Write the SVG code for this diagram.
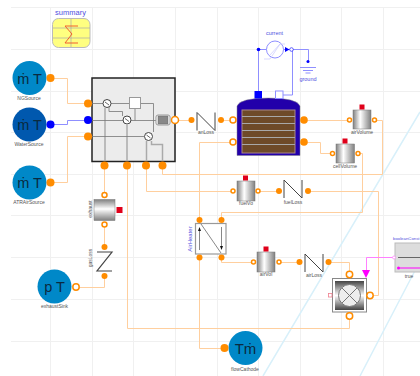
<svg xmlns="http://www.w3.org/2000/svg" width="420" height="376" viewBox="0 0 420 376">
<defs>
<linearGradient id="vol" x1="0" x2="1" y1="0" y2="0"><stop offset="0" stop-color="#808080"/><stop offset="0.4" stop-color="#fff"/><stop offset="1" stop-color="#808080"/></linearGradient>
<linearGradient id="volh" x1="0" x2="0" y1="0" y2="1"><stop offset="0" stop-color="#808080"/><stop offset="0.45" stop-color="#fff"/><stop offset="1" stop-color="#808080"/></linearGradient>
<linearGradient id="hx" x1="0" x2="0" y1="0" y2="1"><stop offset="0" stop-color="#444"/><stop offset="0.5" stop-color="#fff"/><stop offset="1" stop-color="#444"/></linearGradient>
<path id="n" d="M0 0V18M0 0L18 18M18 0V18" fill="none" stroke="#444" stroke-width="1"/>
</defs>
<style>
text{font-family:"Liberation Sans",Arial,sans-serif}
.grid{stroke:#f0f0f0;stroke-width:1;fill:none}
.diag{stroke:#d8f0fa;stroke-width:1.5;fill:none}
.w{fill:none;stroke:#ffcf9e;stroke-width:1}
.bw{fill:none;stroke:#8f8fff;stroke-width:1}
.pw{fill:none;stroke:#ff80ff;stroke-width:1}
.pf{fill:#ff8c00}
.ph{fill:#fff;stroke:#ff8c00;stroke-width:1.5}
.src{font-size:14.5px;fill:#0a2a40;text-anchor:middle}
.lab{font-size:5px;fill:#555;text-anchor:middle}
.blab{font-size:5.5px;fill:#5050e0;text-anchor:middle}
.red{fill:#e0001a}
.vb{fill:url(#vol);stroke:#777;stroke-width:.5}
.in{fill:none;stroke:#777;stroke-width:.8}
.thick{fill:none;stroke:#aaa;stroke-width:1.5}
.sens{fill:#fff;stroke:#444;stroke-width:1}
</style>
<g id="grid">
<path class="grid" d="M50.5 7V376M92.5 7V376M133.5 7V376M175.5 7V376M217.5 7V376M258.5 7V376M300.5 7V376M341.5 7V376M383.5 7V376"/>
<path class="grid" d="M11 7.500H420M11 49.500H420M11 91.500H420M11 132.500H420M11 174.500H420M11 215.500H420M11 257.500H420M11 299.500H420M11 341.500H420"/>
<path class="diag" d="M420 112L263 376M420 261L360 376"/>
</g>
<g id="connectors">
<path class="w" d="M50.500 78.500H67.500V103.500H88"/>
<path class="bw" d="M50.500 124.500H67.500V120.500H88"/>
<path class="w" d="M50.500 182.500H67.500V136.500H88"/>
<path class="w" d="M175 120.500H191.500M221 120.500H233"/>
<path class="w" d="M233 142.500H199.500V220"/>
<path class="w" d="M162.500 165V174.500H382.500V120.500H374.500"/>
<path class="w" d="M146.500 165V191.500H233"/>
<path class="w" d="M127.500 165V328.500H349.500V316"/>
<path class="w" d="M104.500 165V195M104.500 224V247M104.500 276V287.500H76"/>
<path class="w" d="M199.500 257V348.500H224"/>
<path class="w" d="M221.500 220V212.500H362.500V153.500H358"/>
<path class="w" d="M221.500 257V262.500H253.500M279 262.500H299.500M328.500 262.500H349.500V274"/>
<path class="w" d="M258 191.500H279M308 191.500H378.500V295.500H370"/>
<path class="w" d="M304 120.500H349.500M304 142.500H320.500V153.500H332.500"/>
<path class="bw" d="M258.500 49.500V95M258.500 49.500H267M283 49.500H292.500V95H283M292.500 49.500H308.500V61"/>
<path class="pw" d="M394 257.500H366.500V270"/>
</g>
<g id="summary">
<rect x="52.500" y="18.500" width="37.500" height="29" rx="6" fill="#ffff80" stroke="#bbb"/>
<path d="M53 28H90M53 38H90M71 19V47" stroke="#aaa" stroke-width=".7" fill="none"/>
<path d="M78 26H65L72 34L65 43H78" fill="none" stroke="#f06030" stroke-width="1"/>
<text x="70.500" y="15" font-size="7.500" fill="#5050e0" text-anchor="middle">summary</text>
</g>
<g id="NGSource"><circle cx="29.500" cy="78" r="17" fill="#0088c8"/><text class="src" x="29.500" y="84">ṁ T</text><circle class="pf" cx="50.500" cy="78" r="4"/><text class="lab" x="29" y="100">NGSource</text></g>
<g id="WaterSource"><circle cx="29.500" cy="124.500" r="17" fill="#0058ae"/><text class="src" x="29.500" y="130">ṁ T</text><circle cx="50.500" cy="124.500" r="4" fill="#0000ff"/><text class="lab" x="29" y="146">WaterSource</text></g>
<g id="ATRAirSource"><circle cx="29.500" cy="182.500" r="17" fill="#0088c8"/><text class="src" x="29.500" y="188">ṁ T</text><circle class="pf" cx="50.500" cy="182.500" r="4"/><text class="lab" x="29" y="204">ATRAirSource</text></g>
<g id="reformer">
<rect x="92" y="78" width="83" height="83.500" fill="#ececec" stroke="#222" stroke-width="1.500"/>
<path class="thick" d="M105 108V161M127 125V161M146.500 141V161M162.500 161V144.500H151.500V141"/>
<path class="in" d="M92 103.500H130M92 120.500H156M92 136.500H144M109 107V111.500H122.500V116M135 108V120.500M140 103.500H153.500V132"/>
<rect x="129.500" y="97.500" width="11" height="11" fill="#fff" stroke="#999"/>
<circle class="sens" cx="107" cy="103.500" r="4"/><path d="M105 102L109 105" stroke="#666"/>
<circle class="sens" cx="127" cy="120" r="4"/><path d="M125 118.500L129 121.500" stroke="#666"/>
<circle class="sens" cx="148.500" cy="136.500" r="4"/><path d="M146.500 135L150.500 138" stroke="#666"/>
<rect x="156" y="115" width="14" height="10" rx="2" fill="#fff" stroke="#999"/><rect x="158" y="116" width="10" height="8" fill="#888" stroke="#666" stroke-width=".5"/>
<circle class="pf" cx="88" cy="103.500" r="4"/><circle cx="88" cy="120" r="4" fill="#0000ff"/><circle class="pf" cx="88" cy="136.500" r="4"/>
<circle class="pf" cx="104.500" cy="165.500" r="4"/><circle class="pf" cx="127" cy="165.500" r="4"/><circle class="pf" cx="146" cy="165.500" r="4"/><circle class="pf" cx="162.500" cy="165.500" r="4"/>
<circle class="ph" cx="175" cy="120" r="3.500"/>
</g>
<g id="anLoss"><use href="#n" x="197" y="112.500"/><circle class="pf" cx="191.500" cy="120" r="3"/><circle class="pf" cx="221" cy="120" r="3"/><text class="lab" x="206" y="134">anLoss</text></g>
<g id="stack">
<path d="M237 155.500V106Q240 98 268.500 98Q297 98 300 106V155.500Z" fill="#2200aa" stroke="#888" stroke-width=".5"/>
<rect x="242" y="110" width="53" height="43" fill="#6e4a28" stroke="#a88"/>
<path d="M242 116.500H295M242 123.500H295M242 130.500H295M242 137.500H295M242 144.500H295" stroke="#a8a8a8" stroke-width="1"/>
<rect x="254.500" y="91" width="7.500" height="7.500" fill="#0000ff"/>
<rect x="275.500" y="91" width="7.500" height="7.500" fill="#fff" stroke="#8f8fff"/>
<circle class="ph" cx="233" cy="120" r="3"/><circle class="ph" cx="233" cy="142" r="3"/>
<circle class="pf" cx="304" cy="120" r="3.800"/><circle class="pf" cx="304" cy="142" r="3.800"/>
</g>
<g id="current">
<circle cx="275" cy="49.500" r="8.500" fill="#fff" stroke="#8f8fff"/>
<path d="M270 55L280 44M264 59H270L280 44H285" fill="none" stroke="#c8c8ff" stroke-width=".7"/>
<path d="M285 47L289.500 49.500L285 52Z" fill="#0000ff"/>
<circle cx="258.500" cy="49.500" r="1.800" fill="#0000ff"/><circle cx="291.500" cy="49.500" r="1.800" fill="#fff" stroke="#0000ff" stroke-width=".6"/>
<text class="blab" x="274.500" y="35">current</text>
</g>
<g id="ground">
<circle cx="308" cy="61.500" r="1.500" fill="#0000ff"/>
<path d="M300 67.500H316M303 70.500H313M305.500 73H310.500" stroke="#8f8fff" fill="none"/>
<text class="blab" x="308" y="81">ground</text>
</g>
<g id="airVolume"><rect class="vb" x="353" y="110" width="18" height="19"/><rect class="red" x="359.500" y="104.500" width="5" height="5"/><circle class="ph" cx="349.500" cy="120" r="2"/><circle class="ph" cx="374.500" cy="120" r="2"/><text class="lab" x="362" y="134">airVolume</text></g>
<g id="cellVolume"><rect class="vb" x="336" y="144" width="18.500" height="19"/><rect class="red" x="342.500" y="138.500" width="5" height="5"/><circle class="ph" cx="332.500" cy="153.500" r="2"/><circle class="ph" cx="358" cy="153.500" r="2"/><text class="lab" x="345" y="167.500">cellVolume</text></g>
<g id="fuelVo"><rect class="vb" x="237" y="181" width="18" height="20"/><rect class="red" x="243" y="175.500" width="5" height="5"/><circle class="ph" cx="233" cy="191" r="2"/><circle class="ph" cx="258" cy="191" r="2"/><text class="lab" x="246" y="204.500">fuelVo</text></g>
<g id="fuelLoss"><use href="#n" x="284" y="180"/><circle class="pf" cx="279" cy="191" r="3"/><circle class="pf" cx="308" cy="191" r="3"/><text class="lab" x="293" y="204">fuelLoss</text></g>
<g id="AirHeater">
<rect x="195.500" y="223.500" width="30.500" height="30.500" fill="#fff" stroke="#999" stroke-width="1.200"/>
<path d="M199.500 250V229M221.500 227V248M201 224L221 253" fill="none" stroke="#555" stroke-width=".7"/>
<path d="M198 231L199.500 227L201 231ZM220 246L221.500 250L223 246Z" fill="#111"/>
<circle class="pf" cx="199.500" cy="220" r="3"/><circle class="pf" cx="199.500" cy="257.500" r="3"/><circle class="pf" cx="221.500" cy="220" r="3"/><circle class="pf" cx="221.500" cy="257.500" r="3"/>
<text class="blab" transform="translate(192 239) rotate(-90)" style="font-size:6px">AirHeater</text>
</g>
<g id="exhaustVol"><rect x="94" y="199.500" width="21" height="21" fill="url(#volh)" stroke="#777" stroke-width=".5"/><rect class="red" x="116.500" y="207" width="6" height="6"/><circle class="ph" cx="104.500" cy="195" r="2.500"/><circle class="ph" cx="104.500" cy="224.500" r="2.500"/><text class="lab" transform="translate(92 209) rotate(-90)">exhaust</text></g>
<g id="exhaustLoss"><path d="M97 252H112L97 271H112" fill="none" stroke="#444" stroke-width="1.200"/><circle class="pf" cx="104.500" cy="247" r="3"/><circle class="pf" cx="104.500" cy="276" r="3"/><text class="lab" transform="translate(92 258) rotate(-90)">gasLoss</text></g>
<g id="exhaustSink"><circle cx="54.500" cy="286.500" r="17" fill="#0088c8"/><text class="src" x="54.500" y="292">p T</text><circle class="ph" cx="76" cy="287" r="3.200"/><text class="lab" x="54.500" y="308">exhaustSink</text></g>
<g id="airVol"><rect class="vb" x="257" y="252" width="18" height="20"/><rect class="red" x="263.500" y="246.500" width="5" height="5"/><circle class="ph" cx="253.500" cy="262" r="2"/><circle class="ph" cx="279" cy="262" r="2"/><text class="lab" x="266" y="276">airVol</text></g>
<g id="airLoss"><use href="#n" x="305" y="254"/><circle class="pf" cx="299.500" cy="262" r="3"/><circle class="pf" cx="328.500" cy="262" r="3"/><text class="lab" x="314" y="276.500">airLoss</text></g>
<g id="arHx">
<rect x="332.500" y="278.500" width="34" height="33.500" fill="#fff" stroke="#888"/>
<rect x="335" y="281" width="29" height="29" fill="url(#hx)"/>
<circle cx="349.500" cy="295.500" r="11" fill="#eee" stroke="#777"/><path d="M342 288L357 303M357 288L342 303" stroke="#777"/>
<path d="M362 270H370L366 278Z" fill="#ff00ff"/>
<rect x="328.500" y="293.500" width="3.500" height="3.500" fill="#fff" stroke="#f08090" stroke-width=".8"/>
<circle class="ph" cx="349.500" cy="274.500" r="3.200"/><circle class="ph" cx="349.500" cy="316" r="3.200"/><circle class="ph" cx="370" cy="295.500" r="3.200"/>
</g>
<g id="booleanConstant">
<rect x="395" y="243" width="26" height="29" fill="#ddd" stroke="#bbb"/>
<path d="M398 257.500H421" stroke="#666"/><path d="M398 268H421" stroke="#ff00ff"/><circle cx="398.500" cy="268" r="1.500" fill="#ff00ff"/>
<circle cx="394" cy="257.500" r="1.500" fill="#fff" stroke="#ff80ff" stroke-width=".7"/>
<text x="393" y="240" font-size="4.300" fill="#5050e0">booleanConst</text>
<text class="lab" x="409" y="278">true</text>
</g>
<g id="flowCathode"><circle cx="245.500" cy="348" r="17" fill="#0088c8"/><text class="src" x="245.500" y="354" style="font-size:15px">Tṁ</text><circle class="pf" cx="224.500" cy="348" r="4"/><text class="lab" x="245" y="371">flowCathode</text></g>
</svg>
